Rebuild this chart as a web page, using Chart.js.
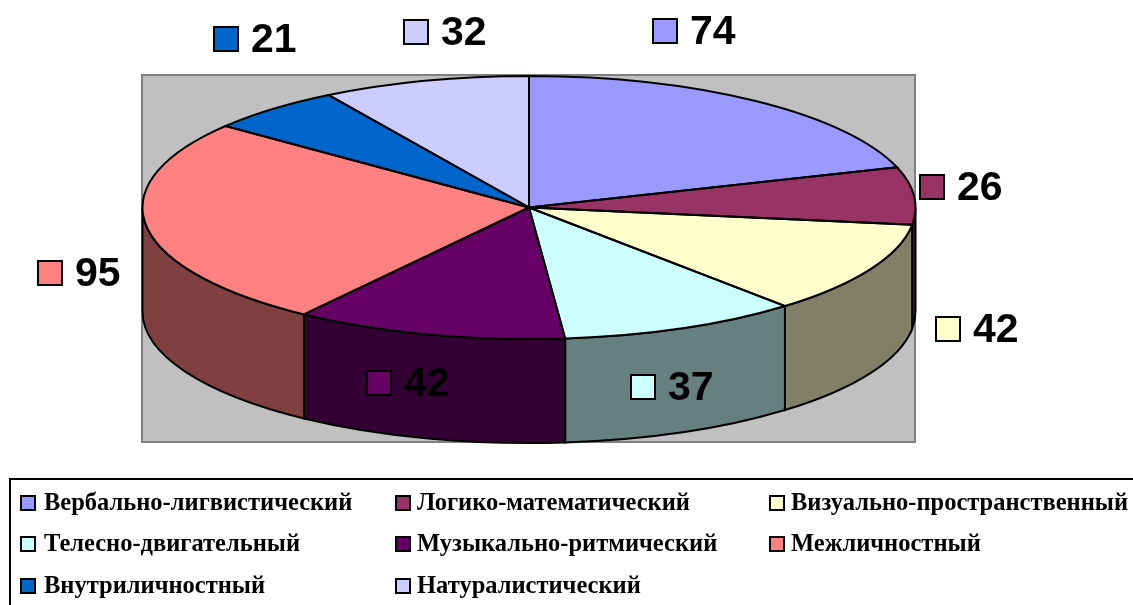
<!DOCTYPE html>
<html>
<head>
<meta charset="utf-8">
<style>
  html, body { margin: 0; padding: 0; background: #fff; overflow: hidden; }
  #wrap { position: relative; width: 1133px; height: 605px; overflow: hidden; }
  #myChart { position: absolute; left: 0; top: 0; }
  #legendBox {
    position: absolute; left: 9px; top: 478px; width: 1140px; height: 140px;
    border: 2px solid #000; box-sizing: border-box;
  }
  .item { position: absolute; white-space: nowrap; font: bold 24.5px "Liberation Serif", serif; color: #000; line-height: 28px; }
  .key { position: absolute; width: 12px; height: 12px; border: 2px solid #000; box-sizing: content-box; }
</style>
</head>
<body>
<div id="wrap">
  <canvas id="myChart" width="1133" height="605"></canvas>
  <div id="legendBox"></div>
</div>
<script src="https://cdn.jsdelivr.net/npm/chart.js@4"></script>
<script>
var categories = [
  "Вербально-лигвистический",
  "Логико-математический",
  "Визуально-пространственный",
  "Телесно-двигательный",
  "Музыкально-ритмический",
  "Межличностный",
  "Внутриличностный",
  "Натуралистический",
];
var values = [74, 26, 42, 37, 42, 95, 21, 32];
var sliceColors = ["#9999FF", "#993366", "#FFFFCC", "#CCFFFF", "#660066", "#FF8080", "#0066CC", "#CCCCFF"];
var wallColors = ["#4C4C80", "#4C1933", "#808066", "#668080", "#330033", "#804040", "#003366", "#666680"];

// left edge of key and middle of the text for each data label
var labelSpots = [
  [653, 31], [920, 187], [936, 329], [631, 387],
  [367, 383], [38, 273], [214, 39], [404, 32],
];

var plotBox = { left: 142, top: 75, right: 915, bottom: 442 };
var rx = 386.5; // the library draws a circle, this stretches it into the flat ellipse
var depth = 104;

var pie3d = {
  id: "pie3d",
  beforeDraw: function (chart) {
    var ctx = chart.ctx;
    ctx.save();
    ctx.fillStyle = "#C0C0C0";
    ctx.strokeStyle = "#808080";
    ctx.lineWidth = 2;
    ctx.fillRect(plotBox.left, plotBox.top, plotBox.right - plotBox.left, plotBox.bottom - plotBox.top);
    ctx.strokeRect(plotBox.left, plotBox.top, plotBox.right - plotBox.left, plotBox.bottom - plotBox.top);
    ctx.restore();
  },
  // side walls, only the front half of the pie shows them
  beforeDatasetsDraw: function (chart) {
    var ctx = chart.ctx;
    ctx.save();
    ctx.lineWidth = 2;
    ctx.strokeStyle = "#000";
    chart.getDatasetMeta(0).data.forEach(function (arc, i) {
      var a = Math.max(arc.startAngle, 0);
      var b = Math.min(arc.endAngle, Math.PI);
      if (b <= a) return;
      var ry = arc.outerRadius;
      ctx.beginPath();
      ctx.ellipse(arc.x, arc.y, rx, ry, 0, a, b);
      ctx.ellipse(arc.x, arc.y + depth, rx, ry, 0, b, a, true);
      ctx.closePath();
      ctx.fillStyle = wallColors[i];
      ctx.fill();
      ctx.stroke();
    });
    ctx.restore();
  },
  beforeDatasetDraw: function (chart) {
    var ctx = chart.ctx;
    var arc = chart.getDatasetMeta(0).data[0];
    ctx.save();
    ctx.translate(arc.x, arc.y);
    ctx.scale(rx / arc.outerRadius, 1);
    ctx.translate(-arc.x, -arc.y);
  },
  afterDatasetDraw: function (chart) {
    chart.ctx.restore();
  },
  afterDatasetsDraw: function (chart) {
    var ctx = chart.ctx;
    ctx.save();
    ctx.lineWidth = 2;
    ctx.strokeStyle = "#000";
    chart.getDatasetMeta(0).data.forEach(function (arc) {
      ctx.beginPath();
      ctx.moveTo(arc.x, arc.y);
      ctx.ellipse(arc.x, arc.y, rx, arc.outerRadius, 0, arc.startAngle, arc.endAngle);
      ctx.closePath();
      ctx.stroke();
    });

    // value labels with their small keys
    ctx.font = 'bold 41px "Liberation Sans", Arial, sans-serif';
    ctx.textBaseline = "middle";
    values.forEach(function (v, i) {
      var x = labelSpots[i][0];
      var y = labelSpots[i][1];
      ctx.fillStyle = sliceColors[i];
      ctx.fillRect(x, y - 12, 24, 24);
      ctx.strokeRect(x, y - 12, 24, 24);
      ctx.fillStyle = "#000";
      ctx.fillText(String(v), x + 37, y + 2);
    });
    ctx.restore();
  },
};

window.onload = function () {
  var ctx = document.getElementById("myChart").getContext("2d");
  new Chart(ctx, {
    type: "pie",
    data: {
      labels: categories,
      datasets: [
        {
          data: values,
          backgroundColor: sliceColors,
          borderWidth: 0,
        },
      ],
    },
    options: {
      responsive: false,
      animation: false,
      events: [],
      layout: { padding: { left: 397.5, right: 472.5, top: 76, bottom: 266 } },
      plugins: { legend: { display: false }, tooltip: { enabled: false } },
    },
    plugins: [pie3d],
  });

  // legend: three columns, filled row by row
  var box = document.getElementById("legendBox");
  var keyX = [9, 384, 758];
  var textX = [33, 406, 780];
  var rowY = [8, 49, 91];
  categories.forEach(function (name, i) {
    var col = i % 3;
    var row = Math.floor(i / 3);
    var key = document.createElement("div");
    key.className = "key";
    key.style.left = keyX[col] + "px";
    key.style.top = rowY[row] + 7 + "px";
    key.style.background = sliceColors[i];
    box.appendChild(key);
    var item = document.createElement("div");
    item.className = "item";
    item.style.left = textX[col] + "px";
    item.style.top = rowY[row] + "px";
    item.textContent = name;
    box.appendChild(item);
  });
};
</script>
</body>
</html>
